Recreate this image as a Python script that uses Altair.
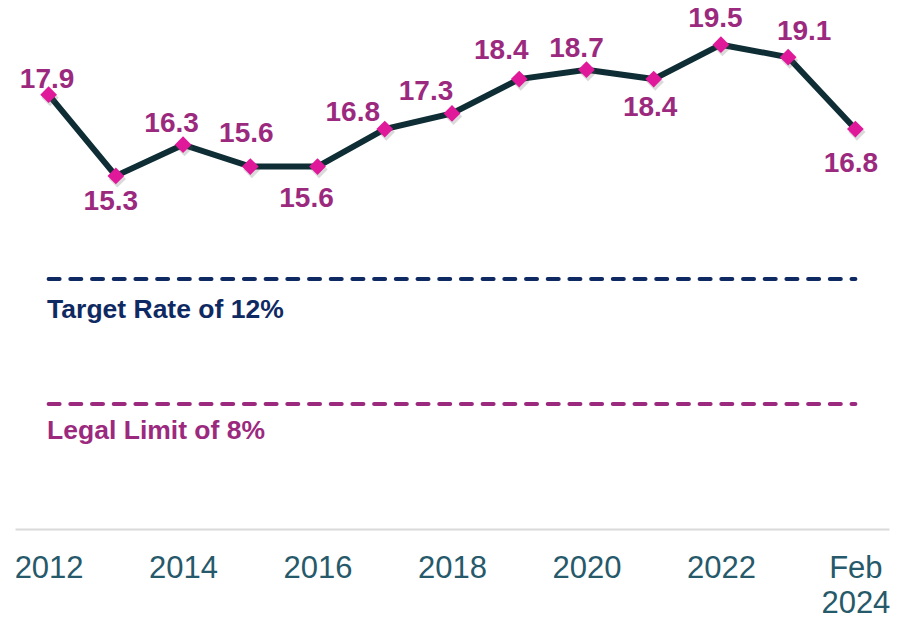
import altair as alt
import pandas as pd

# ---- data ----
categories = ["2012", "2013", "2014", "2015", "2016", "2017", "2018",
              "2019", "2020", "2021", "2022", "2023", "Feb 2024"]
values = [17.9, 15.3, 16.3, 15.6, 15.6, 16.8, 17.3, 18.4, 18.7, 18.4, 19.5, 19.1, 16.8]
label_text = ["17.9", "15.3", "16.3", "15.6", "15.6", "16.8", "17.3",
              "18.4", "18.7", "18.4", "19.5", "19.1", "16.8"]
tick_values = ["2012", "2014", "2016", "2018", "2020", "2022", "Feb 2024"]
ref_names = ["Target Rate of 12%", "Legal Limit of 8%"]
ref_values = [12, 8]

# ---- label placement (pixel offsets of each value label from its marker) ----
label_dx = [-1.5, -5, -11.5, -4, -11, -32, -26, -18, -10, -3.5, -5.5, 16, -4.5]
label_dy = [-7, 34, -13, -25, 40, -8, -13, -20, -13, 37, -18, -17, 43]
ref_colors = ["#0f2a62", "#9b2a7f"]
ref_text_dy = [39, 35]

df = pd.DataFrame({"cat": categories, "value": values, "label": label_text})

# reference lines span from the first to the last category
ref_rows = []
for name, val, col in zip(ref_names, ref_values, ref_colors):
    for c in (categories[0], categories[-1]):
        ref_rows.append({"name": name, "value": val, "cat": c, "color": col})
ref_df = pd.DataFrame(ref_rows)

FONT = "Liberation Sans"
x_scale = alt.Scale(type="point", padding=0.5, domain=categories)
y_scale = alt.Scale(domain=[4, 20.93], nice=False, zero=False)

x_enc = alt.X(
    "cat:O",
    sort=categories,
    scale=x_scale,
    axis=alt.Axis(
        values=tick_values,
        labelExpr="datum.value == 'Feb 2024' ? ['Feb', '2024'] : datum.value",
        labelAngle=0,
        labelAlign="center",
        ticks=False,
        tickSize=0,
        grid=False,
        domainColor="#d9d9d9",
        domainWidth=2,
        labelFont=FONT,
        labelFontSize=31,
        labelColor="#26596a",
        labelPadding=24,
        labelLineHeight=35,
        labelBaseline="top",
        title=None,
    ),
)
x_plain = alt.X("cat:O", sort=categories, scale=x_scale)
y_enc = alt.Y("value:Q", scale=y_scale, axis=None)

base = alt.Chart(df)

line = base.mark_line(color="#0f2d35", strokeWidth=6, strokeJoin="miter").encode(x=x_enc, y=y_enc)

shadow = base.mark_point(shape="diamond", filled=True, size=300, color="#555555",
                         opacity=0.22, xOffset=1.5, yOffset=3).encode(x=x_plain, y=y_enc)

markers = base.mark_point(shape="diamond", filled=True, size=280, color="#e0199a",
                          opacity=1).encode(x=x_plain, y=y_enc)

label_layers = []
for i, cat in enumerate(categories):
    lt = alt.Chart(df[df["cat"] == cat]).mark_text(
        font=FONT, fontSize=28, fontWeight="bold", color="#9b2a7f",
        align="center", baseline="alphabetic", dx=label_dx[i], dy=label_dy[i],
    ).encode(x=x_plain, y=y_enc, text="label:N")
    label_layers.append(lt)

ref_lines = alt.Chart(ref_df).mark_line(strokeWidth=4, strokeDash=[11, 10.7], strokeCap="round").encode(
    x=x_plain,
    y=y_enc,
    detail="name:N",
    color=alt.Color("color:N", scale=None),
)

ref_texts = []
for name, col, dy in zip(ref_names, ref_colors, ref_text_dy):
    t = alt.Chart(ref_df[(ref_df["name"] == name) & (ref_df["cat"] == categories[0])]).mark_text(
        font=FONT, fontSize=26.5, fontWeight="bold", color=col,
        align="left", baseline="alphabetic", dx=-1.5, dy=dy,
    ).encode(x=x_plain, y=y_enc, text="name:N")
    ref_texts.append(t)

chart = alt.layer(line, ref_lines, *ref_texts, shadow, markers, *label_layers).properties(
    width=874,
    height=529,
    background="white",
    autosize=alt.AutoSizeParams(type="none"),
    padding={"left": 15, "top": 0, "right": 11, "bottom": 91},
).configure_view(stroke=None)

chart.save("out.html", embed_options={"renderer": "svg", "actions": False})
